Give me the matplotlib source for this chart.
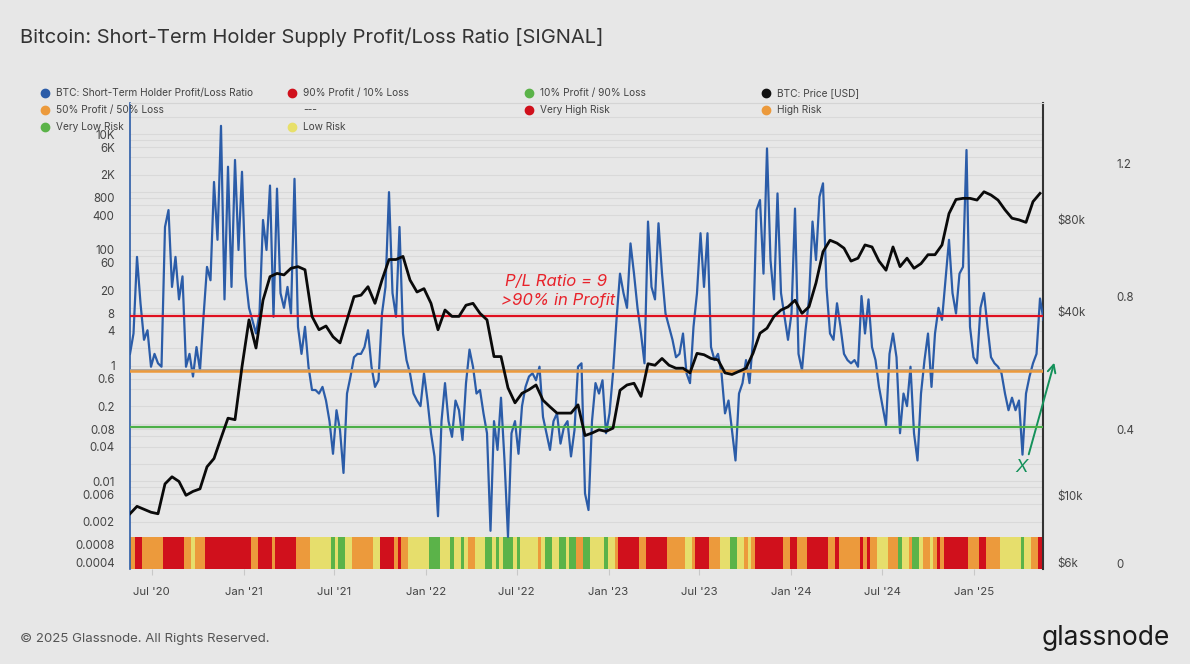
import matplotlib.pyplot as plt
from matplotlib.lines import Line2D
import numpy as np
import pandas as pd

plt.rcParams['font.family'] = ['Inter', 'DejaVu Sans']

# STH profit/loss ratio, one reading per week from 2020-05-19
sth_ratio = [
    1.6, 3.6, 76, 12, 2.8, 4.1, 0.96, 1.6, 1.1, 0.96,
    250, 490, 23, 76, 14, 35, 0.96, 1.6, 0.65, 2.1,
    0.84, 7, 51, 30, 1500, 150, 14000, 14, 2750, 23,
    3600, 100, 2250, 35, 10, 6, 3.6, 8, 330, 100,
    1300, 7, 1150, 18, 10, 23, 8, 1700, 4.7, 1.6,
    4.7, 0.96, 0.38, 0.38, 0.33, 0.43, 0.25, 0.11, 0.03, 0.17,
    0.077, 0.014, 0.33, 0.65, 1.4, 1.6, 1.6, 2.1, 4.1, 0.96,
    0.43, 0.56, 8, 23, 1000, 18, 7, 250, 3.6, 1.25,
    0.74, 0.33, 0.25, 0.2, 0.74, 0.25, 0.068, 0.027, 0.0025, 0.11,
    0.5, 0.11, 0.059, 0.25, 0.17, 0.052, 0.5, 1.9, 0.96, 0.33,
    0.38, 0.15, 0.068, 0.0014, 0.11, 0.035, 0.28, 0.023, 0.0011, 0.068,
    0.11, 0.03, 0.2, 0.43, 0.65, 0.74, 0.56, 0.96, 0.13, 0.068,
    0.035, 0.11, 0.15, 0.045, 0.088, 0.11, 0.027, 0.077, 0.96, 1.1,
    0.0062, 0.0032, 0.11, 0.5, 0.33, 0.56, 0.068, 0.15, 0.74, 6.2,
    39, 18, 10, 130, 39, 10, 3.6, 1.1, 310, 23,
    14, 290, 39, 8, 4.7, 2.8, 1.4, 1.6, 3.6, 0.74,
    0.5, 4.7, 18, 195, 23, 195, 2.1, 1.25, 1.6, 0.74,
    0.15, 0.25, 0.077, 0.023, 0.33, 0.5, 1.25, 0.5, 2.8, 490,
    730, 39, 5700, 67, 14, 950, 18, 7, 2.8, 8,
    520, 1.6, 0.84, 4.1, 14, 310, 67, 830, 1420, 23,
    3.6, 2.8, 12, 4.7, 1.6, 1.25, 1.1, 1.25, 0.96, 16,
    3.6, 14, 2.1, 1.25, 0.43, 0.2, 0.094, 1.6, 3.6, 1.4,
    0.068, 0.33, 0.2, 0.96, 0.068, 0.023, 0.33, 1.25, 3.6, 0.43,
    3.6, 10, 6.2, 30, 150, 18, 8, 39, 51, 5350,
    4.7, 1.4, 1.1, 10, 18, 4.7, 1.4, 1.1, 0.96, 0.74,
    0.33, 0.17, 0.28, 0.17, 0.25, 0.029, 0.33, 0.65, 1.1, 1.6,
    14.5, 6.2,
]

# BTC price in USD, one reading every two weeks from the same start
btc_price = [
    8700, 9200, 9000, 8800, 8700, 10900, 11500, 11100, 10000, 10300,
    10500, 12400, 13200, 15400, 17900, 17700, 26400, 37600, 30400, 43600,
    52100, 53400, 52800, 55500, 56200, 54900, 38600, 34900, 35900, 33100,
    31600, 37600, 44800, 45300, 48300, 42600, 50800, 59300, 59300, 60700,
    50800, 46400, 47600, 42600, 34900, 40500, 38600, 38600, 42000, 42600,
    39500, 37600, 28500, 28500, 22500, 20100, 21600, 22200, 23000, 20500,
    19500, 18600, 18600, 18600, 19800, 15700, 16000, 16400, 16200, 16600,
    22100, 23000, 23300, 21100, 27000, 26700, 28100, 26700, 26100, 26100,
    25200, 29200, 28900, 28100, 27800, 25200, 24900, 25500, 26100, 29200,
    34000, 35300, 38600, 40500, 41500, 43600, 39500, 41500, 49700, 62900,
    68600, 67100, 64600, 58600, 59900, 66200, 65200, 58600, 54700, 65200,
    56200, 59900, 55500, 57500, 61500, 61500, 66200, 83900, 93300, 94100,
    94100, 92900, 98900, 96500, 92900, 86300, 81000, 80000, 78500, 91800,
    97700,
]

# horizontal signal levels on the ratio axis
level_90_10 = 7.2
level_50_50 = 0.80
level_dash = 0.84
level_10_90 = 0.088

ratio_ticks = [1e4, 6e3, 2e3, 800, 400, 100, 60, 20, 8, 4, 1, 0.6, 0.2, 0.08,
               0.04, 0.01, 0.006, 0.002, 0.0008, 0.0004]
ratio_labels = ['10K', '6K', '2K', '800', '400', '100', '60', '20', '8', '4', '1',
                '0.6', '0.2', '0.08', '0.04', '0.01', '0.006', '0.002', '0.0008', '0.0004']
price_ticks = [6000, 10000, 40000, 80000]
price_labels = ['$6k', '$10k', '$40k', '$80k']
share_ticks = [0, 0.4, 0.8, 1.2]
share_labels = ['0', '0.4', '0.8', '1.2']

BG = '#e7e7e7'
BLUE = '#2b5ca8'
RED = '#d0101c'
ORANGE = '#ec9a3c'
GREEN = '#5bb349'
YELLOW = '#e6de6c'
TXT = '#444444'

W, H = 1190, 664
fx = lambda px: px / W
fy = lambda py: 1 - py / H

wk = pd.date_range('2020-05-19', periods=len(sth_ratio), freq='7D')
bw = pd.date_range('2020-05-19', periods=len(btc_price), freq='14D')
ratio = np.array(sth_ratio)

fig = plt.figure(figsize=(11.9, 6.64), dpi=100, facecolor=BG)
ax = fig.add_axes([fx(130), fy(569), fx(1043) - fx(130), (569 - 103) / H])
ax.set_facecolor(BG)
ax.set_yscale('log')
ylo, yhi = 3.06e-4, 3.475e4
ax.set_ylim(ylo, yhi)
ax.set_xlim(pd.Timestamp('2020-05-19'), pd.Timestamp('2025-05-19'))

minor = [m * 10.0 ** e for e in range(-4, 5) for m in (1, 2, 4, 6, 8)]
ax.set_yticks([v for v in minor if ylo < v < yhi], minor=True)
ax.yaxis.set_minor_formatter(plt.NullFormatter())
ax.set_yticks(ratio_ticks)
ax.set_yticklabels(ratio_labels)
ax.tick_params(axis='y', which='both', length=0, pad=11, labelsize=8.3, labelcolor=TXT)
ax.grid(axis='y', which='both', color='#d9d9d9', lw=0.8)
ax.set_axisbelow(True)

xt = pd.date_range('2020-07-01', '2025-01-01', freq='6MS')
ax.set_xticks(xt)
ax.set_xticklabels([d.strftime("%b '%y") for d in xt])
ax.tick_params(axis='x', length=4, color='#c8c8c8', pad=9, labelsize=8.2, labelcolor=TXT)

# risk band along the bottom, coloured by where the ratio sits
risk = np.where(ratio > level_90_10, RED,
                np.where(ratio > level_50_50, ORANGE,
                         np.where(ratio > level_10_90, YELLOW, GREEN)))
band_top = 1.094e-3
ax.bar(wk, band_top - ylo, bottom=ylo, width=7, color=risk, linewidth=0, zorder=1)

ax.plot(wk, ratio, color=BLUE, lw=1.6, zorder=3)
ax.axhline(level_90_10, color='#e01020', lw=1.6, zorder=4)
ax.axhline(level_dash, color='#a39c94', lw=1.2, zorder=4)
ax.axhline(level_50_50, color=ORANGE, lw=1.8, zorder=4)
ax.axhline(level_10_90, color='#4caf48', lw=1.6, zorder=4)

ax.spines['bottom'].set_visible(False)
ax.spines['left'].set_color(BLUE)
ax.spines['left'].set_linewidth(1.2)
ax.spines['right'].set_color('#333333')
ax.spines['right'].set_linewidth(1.5)
ax.spines['top'].set_color('#d4d4d4')

# price axis
ax2 = ax.twinx()
ax2.set_yscale('log')
ax2.set_ylim(5733, 193300)
ax2.plot(bw, btc_price, color='#0a0a0a', lw=2, zorder=5)
ax2.yaxis.set_minor_locator(plt.NullLocator())
ax2.set_yticks(price_ticks)
ax2.set_yticklabels(price_labels)
ax2.tick_params(axis='y', length=0, pad=10, labelsize=8.3, labelcolor=TXT)
for s in ax2.spines.values():
    s.set_visible(False)

# share axis
ax3 = ax.twinx()
ax3.set_ylim(-0.0171, 1.381)
ax3.set_yticks(share_ticks)
ax3.set_yticklabels(share_labels)
ax3.tick_params(axis='y', length=0, pad=53, labelsize=8.3, labelcolor=TXT)
for s in ax3.spines.values():
    s.set_visible(False)

# legend
legend_rows = [
    [('BTC: Short-Term Holder Profit/Loss Ratio', BLUE), ('90% Profit / 10% Loss', RED),
     ('10% Profit / 90% Loss', GREEN), ('BTC: Price [USD]', '#111111')],
    [('50% Profit / 50% Loss', ORANGE), ('---', None), ('Very High Risk', RED), ('High Risk', ORANGE)],
    [('Very Low Risk', GREEN), ('Low Risk', '#e8e06a')],
]
col_x = [45, 292, 529, 766]
row_y = [93, 110, 127]
for r, row in enumerate(legend_rows):
    for c, (name, col) in enumerate(row):
        if col is not None:
            fig.add_artist(Line2D([fx(col_x[c])], [fy(row_y[r])], marker='o', ms=6,
                                  color=col, transform=fig.transFigure, zorder=6))
        fig.text(fx(col_x[c] + 11), fy(row_y[r]), name, fontsize=7.3, color=TXT,
                 va='center', ha='left', zorder=7)

fig.text(fx(20), fy(37), 'Bitcoin: Short-Term Holder Supply Profit/Loss Ratio [SIGNAL]',
         fontsize=14.5, color='#333333', va='center', ha='left')
fig.text(fx(20), fy(639), '\u00a9 2025 Glassnode. All Rights Reserved.',
         fontsize=9.5, color='#555555', va='center', ha='left')
fig.text(fx(1170), fy(638), 'glassnode', fontsize=19, fontweight='normal',
         color='#1a1a1a', va='center', ha='right')

# annotations
fig.text(fx(556), fy(282), 'P/L Ratio = 9', fontsize=12, style='italic',
         color='#e8232b', va='center', ha='center', zorder=8)
fig.text(fx(558), fy(301), '>90% in Profit', fontsize=12, style='italic',
         color='#e8232b', va='center', ha='center', zorder=8)
fig.text(fx(1022), fy(468), 'X', fontsize=13, style='italic',
         color='#14915a', va='center', ha='center', zorder=8)
ax.annotate('', xy=(1055, H - 360), xytext=(1028, H - 457), xycoords='figure pixels',
            textcoords='figure pixels', annotation_clip=False,
            arrowprops=dict(arrowstyle='->', color='#14915a', lw=1.4,
                            mutation_scale=14))

fig.savefig('out.png', dpi=100, facecolor=BG)
